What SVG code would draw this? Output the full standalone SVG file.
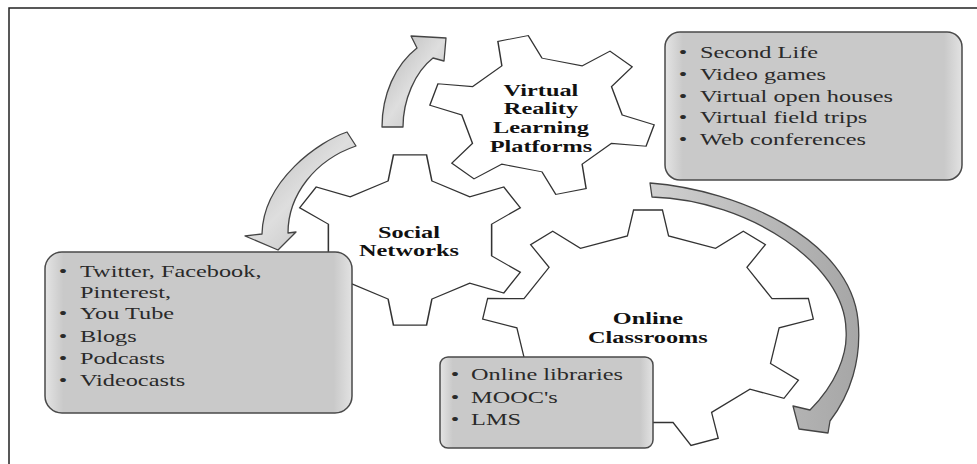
<svg xmlns="http://www.w3.org/2000/svg" width="977" height="464" viewBox="0 0 977 464">
<style>
.gear{fill:#fff;stroke:#333;stroke-width:1.3;stroke-linejoin:miter}
.box{stroke:#4a4a4a;stroke-width:1.5}
.arrow{stroke:#444;stroke-width:1.3;stroke-linejoin:round}
.lbl{font-family:"Liberation Serif","Times New Roman",serif;font-size:17px;font-weight:bold;fill:#111;text-anchor:middle}
.item{font-family:"Liberation Serif","Times New Roman",serif;font-size:17px;fill:#2a2a2a}
.bul{font-family:"Liberation Serif","Times New Roman",serif;font-size:17px;fill:#2a2a2a;text-anchor:middle}
</style>
<defs>
<path id="gear6" d="M68.6,18.4 L92.7,37.5 L78.8,61.6 L50.2,50.2 L18.4,68.6 L13.9,99 L-13.9,99 L-18.4,68.6 L-50.2,50.2 L-78.8,61.6 L-92.7,37.5 L-68.6,18.4 L-68.6,-18.4 L-92.7,-37.5 L-78.8,-61.6 L-50.2,-50.2 L-18.4,-68.6 L-13.9,-99 L13.9,-99 L18.4,-68.6 L50.2,-50.2 L78.8,-61.6 L92.7,-37.5 L68.6,-18.4 Z"/>
<linearGradient id="boxg" x1="0" y1="0" x2="1" y2="0">
<stop offset="0" stop-color="#e4e4e4"/>
<stop offset="0.06" stop-color="#c9c9c9"/>
<stop offset="0.94" stop-color="#c9c9c9"/>
<stop offset="1" stop-color="#e2e2e2"/>
</linearGradient>
<linearGradient id="arrg" x1="0" y1="0" x2="1" y2="1">
<stop offset="0" stop-color="#b4b4b4"/>
<stop offset="0.5" stop-color="#dedede"/>
<stop offset="1" stop-color="#b8b8b8"/>
</linearGradient>
<linearGradient id="arrg3" x1="1" y1="0" x2="0" y2="0">
<stop offset="0" stop-color="#a6a6a6"/>
<stop offset="1" stop-color="#d0d0d0"/>
</linearGradient>
</defs>
<rect x="9" y="8" width="980" height="470" fill="#fff" stroke="#222" stroke-width="1.5"/>

<g id="node-online">
<path class="gear" vector-effect="non-scaling-stroke" transform="translate(648,329.5) scale(1.66,1.2)" d="M-12.4,-78 L-8.7,-99.6 L8.7,-99.6 L12.4,-78 L40.7,-67.7 L57.4,-81.9 L70.7,-70.7 L59.6,-51.8 L74.7,-25.7 L96.6,-25.9 L99.6,-8.7 L79,-1.4 L73.8,28.3 L90.6,42.3 L81.9,57.4 L61.4,49.7 L38.3,69.1 L42.3,90.6 L25.9,96.6 L15.1,77.5 L-15.1,77.5 L-25.9,96.6 L-42.3,90.6 L-38.3,69.1 L-61.4,49.7 L-81.9,57.4 L-90.6,42.3 L-73.8,28.3 L-79,-1.4 L-99.6,-8.7 L-96.6,-25.9 L-74.7,-25.7 L-59.6,-51.8 L-70.7,-70.7 L-57.4,-81.9 L-40.7,-67.7 Z"/>
<g transform="scale(1.43,1)">
<text class="lbl" x="453.1" y="324">Online</text>
<text class="lbl" x="453.1" y="343">Classrooms</text>
</g>
</g>

<g id="node-social">
<use href="#gear6" class="gear" vector-effect="non-scaling-stroke" transform="translate(410,240) scale(1.19,0.86)"/>
<g transform="scale(1.43,1)">
<text class="lbl" x="286" y="238">Social</text>
<text class="lbl" x="286" y="256">Networks</text>
</g>
</g>

<g id="node-vr">
<use href="#gear6" class="gear" vector-effect="non-scaling-stroke" transform="translate(542,115) scale(1.13,0.8) rotate(-15)"/>
<g transform="scale(1.43,1)">
<text class="lbl" x="378.3" y="96">Virtual</text>
<text class="lbl" x="378.3" y="114">Reality</text>
<text class="lbl" x="378.3" y="133">Learning</text>
<text class="lbl" x="378.3" y="152">Platforms</text>
</g>
</g>

<g id="connectors">
<path class="arrow" fill="url(#arrg)" d="M382,127 C382,95 395,65 417,48 L411,36 L446,38 L444,61 L433,58 C415,72 403,100 403,127 Z"/>
<path class="arrow" fill="url(#arrg)" d="M347,132 C320,141 263,180 262,234 L245,236 L278,250 L296,232 L288,233 C288,195 315,160 356,146 Z"/>
<path class="arrow" fill="url(#arrg3)" d="M650,183 C740,190 850,240 858,320 C862,360 850,395 830,421 L828,433 L799,429 L793,406 L810,410 C835,385 848,355 846,330 C845,265 750,200 652,197 Z"/>
</g>

<g id="box-vr">
<rect class="box" x="665" y="32" width="297" height="148" rx="15" fill="url(#boxg)"/>
<g transform="scale(1.43,1)">
<text class="bul" x="477.6" y="58">•</text>
<text class="item" x="489.5" y="58">Second Life</text>
<text class="bul" x="477.6" y="79.8">•</text>
<text class="item" x="489.5" y="79.8">Video games</text>
<text class="bul" x="477.6" y="101.6">•</text>
<text class="item" x="489.5" y="101.6">Virtual open houses</text>
<text class="bul" x="477.6" y="123.4">•</text>
<text class="item" x="489.5" y="123.4">Virtual field trips</text>
<text class="bul" x="477.6" y="145.2">•</text>
<text class="item" x="489.5" y="145.2">Web conferences</text>
</g>
</g>

<g id="box-social">
<rect class="box" x="45" y="252" width="307" height="161" rx="17" fill="url(#boxg)"/>
<g transform="scale(1.43,1)">
<text class="bul" x="44.1" y="277">•</text>
<text class="item" x="55.9" y="277">Twitter, Facebook,</text>
<text class="item" x="55.9" y="298">Pinterest,</text>
<text class="bul" x="44.1" y="319">•</text>
<text class="item" x="55.9" y="319">You Tube</text>
<text class="bul" x="44.1" y="342">•</text>
<text class="item" x="55.9" y="342">Blogs</text>
<text class="bul" x="44.1" y="364">•</text>
<text class="item" x="55.9" y="364">Podcasts</text>
<text class="bul" x="44.1" y="386">•</text>
<text class="item" x="55.9" y="386">Videocasts</text>
</g>
</g>

<g id="box-online">
<rect class="box" x="440" y="357" width="213" height="91" rx="8" fill="url(#boxg)"/>
<g transform="scale(1.43,1)">
<text class="bul" x="318.2" y="380">•</text>
<text class="item" x="329.4" y="380">Online libraries</text>
<text class="bul" x="318.2" y="403">•</text>
<text class="item" x="329.4" y="403">MOOC's</text>
<text class="bul" x="318.2" y="425">•</text>
<text class="item" x="329.4" y="425">LMS</text>
</g>
</g>
</svg>
